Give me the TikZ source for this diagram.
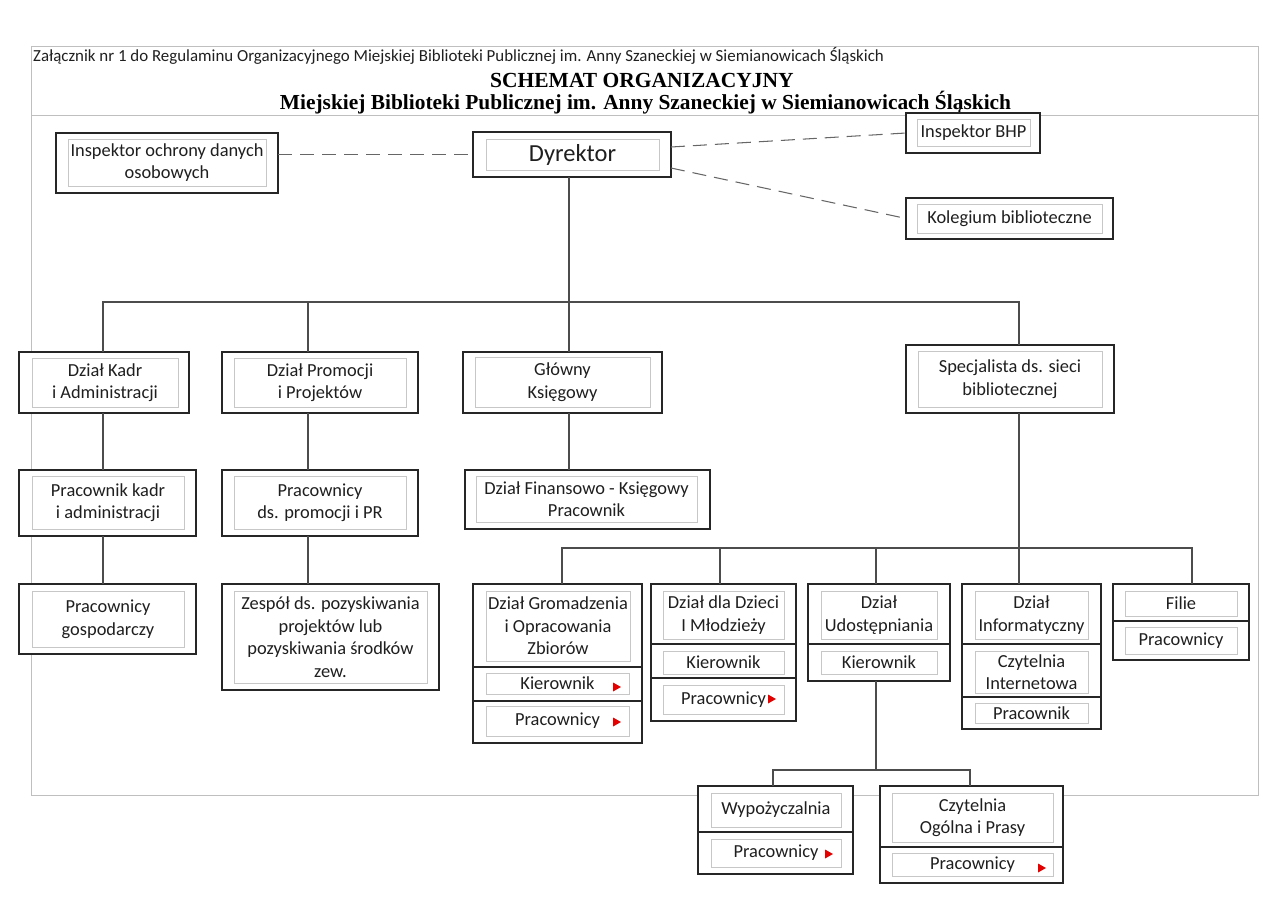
\documentclass[tikz,border=0pt]{standalone}
\usepackage{fontspec}
\setmainfont{Carlito}
\newfontfamily\tnr{Liberation Serif}
\newcommand\cell[5]{\node[cellbox, minimum width={#4-#2}, minimum height={#5-#3}] (#1) at ({(#2+#4)/2},{(#3+#5)/2}) {};}
\newcommand\lab[6]{\node[labbox, minimum width={#4-#2}, minimum height={#5-#3}] (#1) at ({(#2+#4)/2},{(#3+#5)/2}) {#6};}
\newcommand\rtri[2]{\fill[redtri] ({#1-4},{#2-4.5}) -- ({#1+4},{#2}) -- ({#1-4},{#2+4.5}) -- cycle;}
\begin{document}
\begin{tikzpicture}[x=1pt,y=-1pt,
  cellbox/.style={draw=black!85, line width=1.05pt, fill=white, inner sep=0pt, outer sep=0pt},
  labbox/.style={draw=black!22, line width=0.8pt, inner sep=0pt, outer sep=0pt, align=center,
                 font=\fontsize{18.4}{22.5}\selectfont, text=black!88},
  conn/.style={draw=black!70, line width=1.05pt},
  dashconn/.style={draw=black!60, line width=1.05pt, dash pattern=on 14pt off 8pt},
  framel/.style={draw=black!25, line width=0.9pt},
  redtri/.style={fill=red!90!black}]
\useasboundingbox (0,0) rectangle (1263,900);
% frame
\draw[framel] (31,46) rectangle (1258,795);
\draw[framel] (31,115) -- (1258,115);
% header
\node[anchor=base west, inner sep=0pt, font=\fontsize{16.9}{20}\selectfont, text=black!88] (zal) at (33,61)
  {Załącznik nr 1 do Regulaminu Organizacyjnego Miejskiej Biblioteki Publicznej im. Anny Szaneckiej w Siemianowicach Śląskich};
\node[anchor=base, inner sep=0pt, font=\tnr\bfseries\fontsize{21.5}{24}\selectfont] (t1) at (642,87) {SCHEMAT ORGANIZACYJNY};
\node[anchor=base, inner sep=0pt, font=\tnr\bfseries\fontsize{21.4}{24}\selectfont] (t2) at (645.5,109)
  {Miejskiej Biblioteki Publicznej im. Anny Szaneckiej w Siemianowicach Śląskich};
% top row
\cell{iod}{56}{133}{278}{193} \lab{iodt}{68}{139}{266}{186}{Inspektor ochrony danych\\osobowych}
\cell{dyr}{473}{132}{671}{177} \lab{dyrt}{486}{139}{659}{170}{\fontsize{24.5}{28}\selectfont Dyrektor}
\cell{bhp}{906}{113}{1040}{153} \lab{bhpt}{917}{119}{1030}{146}{Inspektor BHP}
\cell{kol}{906}{198}{1113}{239} \lab{kolt}{917}{204}{1102}{233}{Kolegium biblioteczne}
% level 2
\cell{kadr}{19}{352}{189}{413} \lab{kadrt}{32}{358}{178}{407}{Dział Kadr\\i Administracji}
\cell{prom}{222}{352}{418}{413} \lab{promt}{234}{358}{406}{407}{Dział Promocji\\i Projektów}
\cell{glow}{463}{352}{662}{413} \lab{glowt}{475}{357}{650}{407}{Główny\\Księgowy}
\cell{spec}{906}{345}{1114}{413} \lab{spect}{918}{351}{1102}{407}{Specjalista ds. sieci\\bibliotecznej}
% level 3
\cell{prk}{19}{470}{196}{536} \lab{prkt}{32}{476}{184}{529}{Pracownik kadr\\i administracji}
\cell{prp}{222}{470}{418}{536} \lab{prpt}{234}{476}{406}{529}{Pracownicy\\ds. promocji i PR}
\cell{fin}{465}{470}{710}{529} \lab{fint}{476}{476}{697}{522}{Dział Finansowo - Księgowy\\Pracownik}
% level 4
\cell{gosp}{19}{584}{196}{654} \lab{gospt}{32}{591}{184}{647}{Pracownicy\\gospodarczy}
\cell{zesp}{222}{584}{439}{690} \lab{zespt}{234}{591}{427}{683}{Zespół ds. pozyskiwania\\projektów lub\\pozyskiwania środków\\zew.}
% Gromadzenia
\cell{gro}{473}{584}{642}{667} \cell{grok}{473}{667}{642}{701} \cell{grop}{473}{701}{642}{743}
\lab{grot}{486}{591}{630}{661}{Dział Gromadzenia\\i Opracowania\\Zbiorów}
\lab{grokt}{486}{673}{629}{694}{Kierownik}
\lab{gropt}{486}{706}{629}{736}{Pracownicy}
\rtri{617}{687} \rtri{617}{722}
% Dzieci
\cell{dz}{651}{584}{796}{644} \cell{dzk}{651}{644}{796}{678} \cell{dzp}{651}{678}{796}{721}
\lab{dzt}{663}{591}{784}{639}{Dział dla Dzieci\\I Młodzieży}
\lab{dzkt}{663}{651}{784}{674}{Kierownik}
\lab{dzpt}{663}{685}{784}{714}{Pracownicy}
\rtri{772}{699}
% Udostepniania
\cell{ud}{808}{584}{950}{644} \cell{udk}{808}{644}{950}{681}
\lab{udt}{821}{591}{937}{639}{Dział\\Udostępniania}
\lab{udkt}{821}{651}{937}{674}{Kierownik}
% Informatyczny
\cell{inf}{962}{584}{1101}{644} \cell{infc}{962}{644}{1101}{697} \cell{infp}{962}{697}{1101}{729}
\lab{inft}{975}{591}{1088}{639}{Dział\\Informatyczny}
\lab{infct}{975}{651}{1088}{693}{Czytelnia\\Internetowa}
\lab{infpt}{975}{703}{1088}{723}{Pracownik}
% Filie
\cell{fil}{1113}{584}{1249}{621} \cell{filp}{1113}{621}{1249}{660}
\lab{filt}{1125}{591}{1237}{616}{Filie}
\lab{filpt}{1125}{627}{1237}{654}{Pracownicy}
% Wypozyczalnia
\cell{wyp}{698}{786}{853}{832} \cell{wypp}{698}{832}{853}{874}
\lab{wypt}{711}{793}{841}{827}{Wypożyczalnia}
\lab{wyppt}{711}{839}{841}{867}{Pracownicy}
\rtri{829}{854}
% Czytelnia Ogolna
\cell{czo}{880}{786}{1063}{847} \cell{czop}{880}{847}{1063}{883}
\lab{czot}{892}{793}{1053}{842}{Czytelnia\\Ogólna i Prasy}
\lab{czopt}{892}{853}{1053}{876}{Pracownicy}
\rtri{1042}{868}
% connectors
\coordinate (b1) at (569,302);
\coordinate (xk) at (103,302);
\coordinate (xp) at (308,302);
\coordinate (xs) at (1019,302);
\draw[conn] (b1 |- dyr.south) -- (b1 |- glow.north);
\draw[conn] (xk |- kadr.north) -- (xk) -- (xs) -- (xs |- spec.north);
\draw[conn] (xp) -- (xp |- prom.north);
\draw[conn] (xk |- kadr.south) -- (xk |- prk.north);
\draw[conn] (xk |- prk.south) -- (xk |- gosp.north);
\draw[conn] (xp |- prom.south) -- (xp |- prp.north);
\draw[conn] (xp |- prp.south) -- (xp |- zesp.north);
\draw[conn] (b1 |- glow.south) -- (b1 |- fin.north);
\coordinate (b2) at (1019,548);
\coordinate (xg) at (562,548);
\coordinate (xd) at (720,548);
\coordinate (xu) at (876,548);
\coordinate (xf) at (1192,548);
\draw[conn] (b2 |- spec.south) -- (b2) -- (b2 |- inf.north);
\draw[conn] (xg |- gro.north) -- (xg) -- (xf) -- (xf |- fil.north);
\draw[conn] (xd) -- (xd |- dz.north);
\draw[conn] (xu) -- (xu |- ud.north);
\coordinate (b3) at (876,770);
\coordinate (xw) at (773,770);
\coordinate (xc) at (970,770);
\draw[conn] (b3 |- udk.south) -- (b3);
\draw[conn] (xw |- wyp.north) -- (xw) -- (xc) -- (xc |- czo.north);
% dashed
\draw[dashconn] (iod.east |- dyr.west) -- (dyr.west);
\draw[dashconn] ([yshift=7.5pt]dyr.east) -- (bhp.west);
\draw[dashconn] ([yshift=-13.5pt]dyr.east) -- (kol.west);
\end{tikzpicture}
\end{document}
